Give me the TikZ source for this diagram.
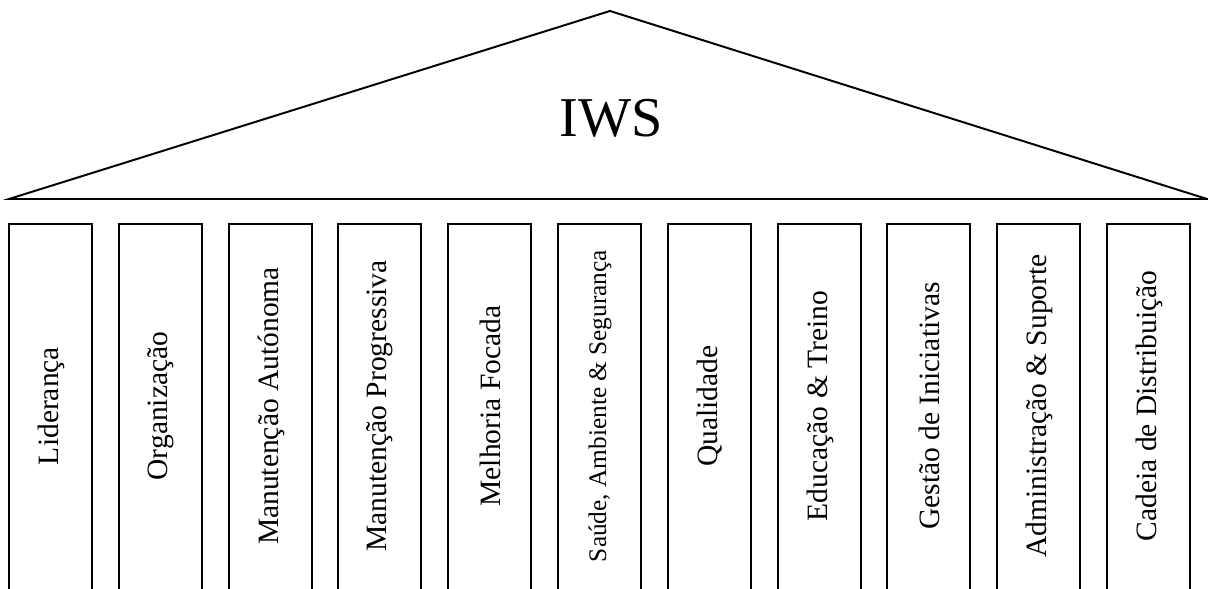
\documentclass[tikz,border=0pt]{standalone}
\usepackage{fontspec}
\setmainfont{Liberation Serif}

\tikzset{
  pillar/.style={line width=1.3pt},
  pillartext/.style={rotate=90, font=\fontsize{21}{25}\selectfont},
}

\begin{document}
\begin{tikzpicture}[x=0.025cm, y=0.025cm, line join=miter]
  \useasboundingbox (0,0) rectangle (1208,589);

  \coordinate (L) at (9,390);
  \coordinate (T) at (610,578);
  \coordinate (R) at (1207,390);

  % roof
  \draw[line width=1.4pt] (L) -- (T) -- (R) -- cycle;
  \node (iws) at (611,471) {\fontsize{40}{48}\selectfont IWS};

  % pillars
  \draw[pillar] (9,0) |- (92,365) -- (92,0);
  \draw[pillar] (119,0) |- (202,365) -- (202,0);
  \draw[pillar] (229,0) |- (312,365) -- (312,0);
  \draw[pillar] (338,0) |- (421,365) -- (421,0);
  \draw[pillar] (448,0) |- (531,365) -- (531,0);
  \draw[pillar] (558,0) |- (641,365) -- (641,0);
  \draw[pillar] (668,0) |- (751,365) -- (751,0);
  \draw[pillar] (778,0) |- (861,365) -- (861,0);
  \draw[pillar] (887,0) |- (970,365) -- (970,0);
  \draw[pillar] (997,0) |- (1080,365) -- (1080,0);
  \draw[pillar] (1107,0) |- (1190,365) -- (1190,0);

  \node[pillartext] (lid) at (51,183) {Liderança};
  \node[pillartext] (org) at (161,183) {Organização};
  \node[pillartext] (maut) at (271,183) {Manutenção Autónoma};
  \node[pillartext] (mprog) at (380,183) {Manutenção Progressiva};
  \node[pillartext] (melh) at (490,183) {Melhoria Focada};
  \node[pillartext, font=\fontsize{18}{22}\selectfont] (sas) at (600,183) {Saúde, Ambiente \& Segurança};
  \node[pillartext] (qual) at (710,183) {Qualidade};
  \node[pillartext] (educ) at (820,183) {Educação \& Treino};
  \node[pillartext] (gest) at (929,183) {Gestão de Iniciativas};
  \node[pillartext] (adm) at (1039,183) {Administração \& Suporte};
  \node[pillartext] (cad) at (1149,183) {Cadeia de Distribuição};
\end{tikzpicture}
\end{document}
